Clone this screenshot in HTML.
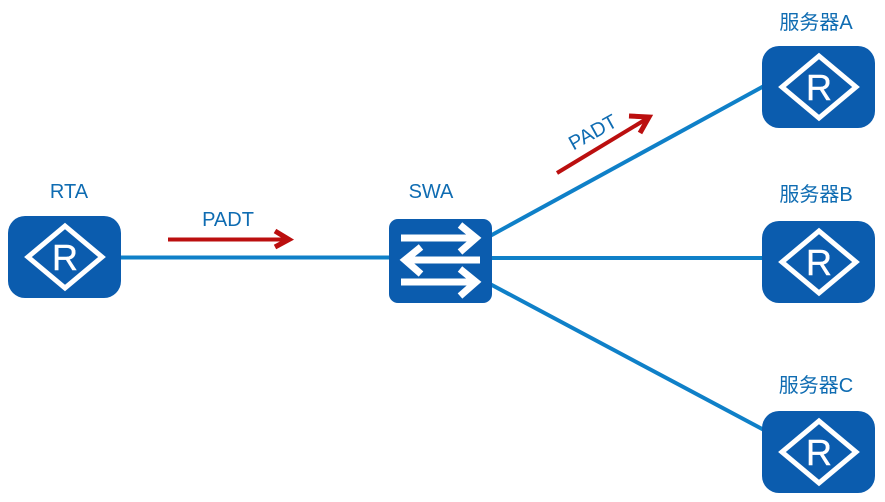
<!DOCTYPE html>
<html>
<head>
<meta charset="utf-8">
<style>
html,body{margin:0;padding:0;background:#fff;width:885px;height:502px;overflow:hidden}
svg{display:block;filter:blur(.35px)}
text{font-family:"Liberation Sans","Noto Sans CJK SC",sans-serif}
.l{fill:#0f6cb2;font-size:20px;text-anchor:middle}
.r{fill:#fff;font-size:36px;text-anchor:middle;stroke:#fff;stroke-width:.4}
.box{fill:#0b5cae}
.d{fill:none;stroke:#fff;stroke-width:5}
.c{stroke:#0f80c8;stroke-width:4;fill:none}
.a{stroke:#bb0f0f;stroke-width:4;fill:none}
.h{stroke:#bb0f0f;stroke-width:5;fill:none}
.s{stroke:#fff;stroke-width:7;fill:none}
</style>
</head>
<body>
<svg width="885" height="502" viewBox="0 0 885 502" xmlns="http://www.w3.org/2000/svg">
<rect width="885" height="502" fill="#fff"/>

<path class="c" d="M120 257.500H390"/>
<path class="c" d="M490 236L764 86"/>
<path class="c" d="M490 258H764"/>
<path class="c" d="M490 284L764 430"/>

<rect class="box" x="8" y="216" width="113" height="82" rx="17"/>
<path class="d" d="M65 226L102 257L65 288L28 257Z"/>
<text class="r" x="65" y="270">R</text>

<rect class="box" x="762" y="46" width="113" height="82" rx="17"/>
<path class="d" d="M819 56L856 87L819 118L782 87Z"/>
<text class="r" x="819" y="100">R</text>

<rect class="box" x="762" y="221" width="113" height="82" rx="17"/>
<path class="d" d="M819 231L856 262L819 293L782 262Z"/>
<text class="r" x="819" y="275">R</text>

<rect class="box" x="762" y="411" width="113" height="82" rx="17"/>
<path class="d" d="M819 421L856 452L819 483L782 452Z"/>
<text class="r" x="819" y="465">R</text>

<rect class="box" x="389" y="219" width="103" height="84" rx="9"/>
<path class="s" d="M401 238H476M460 225L476 238L460 252"/>
<path class="s" d="M480 260H405M421 247L405 260L421 274"/>
<path class="s" d="M401 282H476M460 269L476 282L460 296"/>

<path class="a" d="M168 239.500H288"/>
<path class="h" d="M275 231L289 239.500L275 247"/>
<path class="a" d="M557 173L648 118"/>
<path class="h" d="M629 116L649 117L640 133"/>

<text class="l" x="69" y="198">RTA</text>
<text class="l" x="228" y="226">PADT</text>
<text class="l" x="431" y="198">SWA</text>
<text class="l" x="596" y="138" transform="rotate(-29 596 138)">PADT</text>
<text class="l" x="816" y="29">服务器A</text>
<text class="l" x="816" y="201">服务器B</text>
<text class="l" x="816" y="392">服务器C</text>
</svg>
</body>
</html>
